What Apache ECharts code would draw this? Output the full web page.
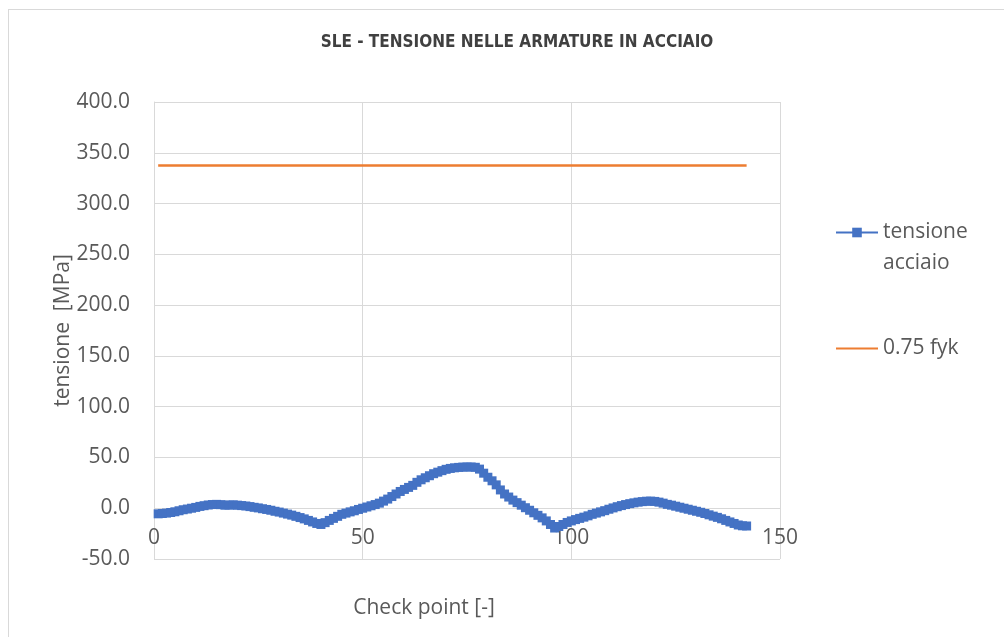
<!DOCTYPE html>
<html><head><meta charset="utf-8">
<script src="https://cdn.jsdelivr.net/npm/echarts@6/dist/echarts.min.js"></script>
<style>
html,body{margin:0;padding:0;background:#fff}
#c{width:1004px;height:637px;position:absolute;left:0;top:0}
#frame{position:absolute;left:8px;top:9px;right:0;bottom:0;border-top:1px solid #d9d9d9;border-left:1px solid #d9d9d9;pointer-events:none}
</style>
</head><body><div id="c"></div><div id="frame"></div>
<script>
const chartTitle = 'SLE - TENSIONE NELLE ARMATURE IN ACCIAIO';
const xAxisName = 'Check point [-]';
const yAxisName = 'tensione  [MPa]';
const seriesNames = ['tensione acciaio', '0.75 fyk'];
const xRange = [0, 150, 50];
const yRange = [-50, 400, 50];

// tensione acciaio at check points 1..142
const tensioneAcciaio = [
  -5.5,-5.2,-4.8,-4.2,-3.5,-2.5,-1.5,-0.8,0.0,0.8,
  1.8,2.5,3.2,3.6,3.8,3.5,3.0,3.1,3.3,3.0,
  2.6,2.2,1.6,0.9,0.3,-0.5,-1.2,-2.0,-3.0,-3.8,
  -4.8,-5.8,-6.8,-8.0,-9.2,-10.5,-12.0,-13.5,-15.0,-16.0,
  -14.2,-12.0,-10.0,-8.0,-6.0,-4.8,-3.6,-2.5,-1.2,0.0,
  1.2,2.4,3.6,5.0,7.0,9.0,11.5,14.0,16.5,18.5,
  20.5,22.5,25.5,28.0,30.0,32.0,34.0,35.5,37.0,38.3,
  39.2,39.8,40.2,40.5,40.6,40.6,40.3,38.5,34.5,30.5,
  27.0,23.0,18.0,14.0,11.0,8.0,5.5,3.0,0.5,-2.0,
  -4.5,-7.0,-9.5,-12.5,-16.0,-19.5,-18.0,-16.0,-14.0,-12.5,
  -11.2,-10.0,-8.8,-7.5,-6.0,-4.8,-3.6,-2.4,-1.0,0.3,
  1.5,2.6,3.6,4.5,5.3,6.0,6.5,6.9,7.0,6.7,
  6.0,5.0,3.8,3.0,2.0,1.0,0.0,-1.0,-2.0,-3.0,
  -4.0,-5.2,-6.5,-7.8,-9.0,-10.4,-12.0,-13.5,-15.0,-16.5,
  -17.3,-17.5
];
const fykX = [1, 142];
const fykY = [337.5, 337.5];

const blueData = tensioneAcciaio.map((v, i) => [i + 1, v]);
const orangeData = fykX.map((x, i) => [x, fykY[i]]);

const labelColor = '#595959';
const gridColor = '#d9d9d9';
const font = 'Open Sans';
const fs = 21;

const chart = echarts.init(document.getElementById('c'), null, {renderer: 'canvas'});
chart.setOption({
  animation: false,
  backgroundColor: '#ffffff',
  title: {
    text: chartTitle,
    left: 512, top: 29, textAlign: 'center',
    textStyle: {fontFamily: 'DejaVu Sans Condensed', fontWeight: 'bold', fontSize: 17, color: '#404040'}
  },
  grid: {left: 154, right: 224, top: 102, bottom: 78, containLabel: false, outerBoundsMode: 'none'},
  legend: [{
    orient: 'vertical', left: 830, top: 181, itemWidth: 42, itemHeight: 12,
    data: [{name: seriesNames[0]}],
    formatter: name => '\n' + name.replace(' ', '\n'),
    textStyle: {fontFamily: font, fontSize: fs, color: labelColor, lineHeight: 31}
  }, {
    orient: 'vertical', left: 830, top: 330, itemWidth: 42, itemHeight: 12,
    data: [{name: seriesNames[1], itemStyle: {opacity: 0}}],
    textStyle: {fontFamily: font, fontSize: fs, color: labelColor, lineHeight: 27}
  }],
  xAxis: {
    type: 'value', min: xRange[0], max: xRange[1], interval: xRange[2],
    name: xAxisName, nameLocation: 'middle', nameGap: 39, nameMoveOverlap: false,
    nameTextStyle: {fontFamily: font, fontSize: fs, color: labelColor, padding: [0, 86, 0, 0]},
    axisLine: {show: false, onZero: false},
    axisTick: {show: false},
    axisLabel: {fontFamily: font, fontSize: fs, color: labelColor, margin: -31},
    splitLine: {show: true, lineStyle: {color: gridColor, width: 1}}
  },
  yAxis: {
    type: 'value', min: yRange[0], max: yRange[1], interval: yRange[2],
    name: yAxisName, nameLocation: 'middle', nameGap: 80, nameMoveOverlap: false,
    nameTextStyle: {fontFamily: font, fontSize: fs, color: labelColor},
    axisLine: {show: true, onZero: false, lineStyle: {color: gridColor, width: 1}},
    axisTick: {show: false},
    axisLabel: {fontFamily: font, fontSize: fs, color: labelColor, margin: 24, formatter: v => v.toFixed(1)},
    splitLine: {show: true, lineStyle: {color: gridColor, width: 1}}
  },
  series: [{
    name: seriesNames[0], type: 'line', data: blueData,
    symbol: 'rect', symbolSize: 9, showSymbol: true,
    itemStyle: {color: '#4472C4'},
    lineStyle: {color: '#4472C4', width: 2.5},
    z: 3
  }, {
    name: seriesNames[1], type: 'line', data: orangeData,
    symbol: 'none', showSymbol: false,
    itemStyle: {color: '#ED7D31'},
    lineStyle: {color: '#ED7D31', width: 2.5},
    z: 2
  }]
});
</script>
</body></html>
